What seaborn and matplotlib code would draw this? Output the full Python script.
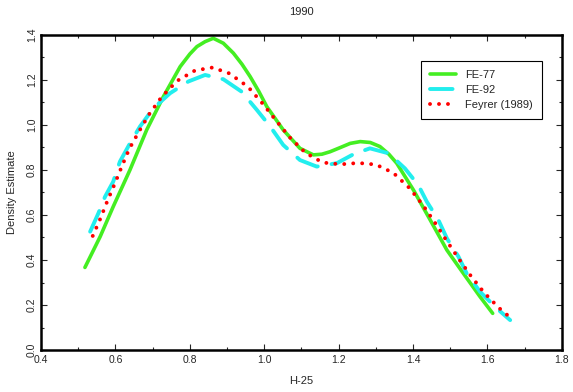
import pandas as pd
import matplotlib.pyplot as plt
import matplotlib.ticker as mticker
import seaborn as sns

# Values
fe77_x = [0.518, 0.559, 0.594, 0.639, 0.684, 0.729, 0.774, 0.800, 0.819, 0.841,
          0.863, 0.890, 0.917, 0.940, 0.962, 0.985, 1.007, 1.051, 1.096, 1.132,
          1.155, 1.177, 1.205, 1.231, 1.258, 1.285, 1.311, 1.335, 1.356, 1.401,
          1.446, 1.491, 1.535, 1.580, 1.614]
fe77_y = [0.367, 0.504, 0.637, 0.800, 0.978, 1.126, 1.259, 1.315, 1.348, 1.370,
          1.385, 1.363, 1.319, 1.270, 1.215, 1.150, 1.081, 0.978, 0.896, 0.867,
          0.870, 0.881, 0.900, 0.918, 0.926, 0.922, 0.904, 0.870, 0.830, 0.711,
          0.578, 0.444, 0.341, 0.237, 0.163]

fe92_x = [0.532, 0.554, 0.572, 0.594, 0.612, 0.639, 0.666, 0.702, 0.747, 0.796,
          0.841, 0.890, 0.939, 0.980, 1.016, 1.051, 1.096, 1.141, 1.195, 1.240,
          1.284, 1.334, 1.378, 1.414, 1.437, 1.468, 1.491, 1.522, 1.544, 1.580,
          1.625, 1.661]
fe92_y = [0.526, 0.607, 0.681, 0.748, 0.837, 0.918, 0.993, 1.074, 1.141, 1.193,
          1.222, 1.203, 1.148, 1.067, 0.993, 0.911, 0.844, 0.815, 0.830, 0.870,
          0.896, 0.874, 0.807, 0.733, 0.659, 0.578, 0.496, 0.415, 0.341, 0.259,
          0.185, 0.133]

feyrer_x = [0.539, 0.559, 0.578, 0.598, 0.617, 0.637, 0.663, 0.690, 0.724, 0.766,
            0.814, 0.861, 0.906, 0.956, 0.995, 1.032, 1.069, 1.111, 1.157, 1.205,
            1.253, 1.300, 1.347, 1.392, 1.428, 1.460, 1.490, 1.521, 1.555, 1.591,
            1.631, 1.653]
feyrer_y = [0.507, 0.582, 0.661, 0.738, 0.815, 0.893, 0.970, 1.046, 1.124, 1.196,
            1.242, 1.255, 1.229, 1.170, 1.096, 1.019, 0.944, 0.876, 0.833, 0.825,
            0.831, 0.824, 0.787, 0.717, 0.640, 0.563, 0.486, 0.410, 0.330, 0.255,
            0.187, 0.156]

sns.set_style('ticks')
plt.rcParams['font.family'] = ['Liberation Sans', 'DejaVu Sans']

fig = plt.figure(figsize=(5.73, 3.92), dpi=100)
ax = fig.add_axes([0.0716, 0.107, 0.909, 0.804])

sns.lineplot(x=fe77_x, y=fe77_y, ax=ax, sort=False, color='#44ee22',
             linewidth=2.6, label='FE-77')
sns.lineplot(x=fe92_x, y=fe92_y, ax=ax, sort=False, color='#22eeee',
             linewidth=2.8, label='FE-92')
sns.lineplot(x=feyrer_x, y=feyrer_y, ax=ax, sort=False, color='#ff0000',
             linewidth=2.8, label='Feyrer (1989)')

for ln in ax.lines:
    ln.set_solid_joinstyle('round')
    ln.set_solid_capstyle('round')
ax.lines[1].set_linestyle((0, (5.8, 3.6)))
ax.lines[1].set_dash_capstyle('round')
ax.lines[2].set_linestyle((0, (0.01, 2.3)))
ax.lines[2].set_dash_capstyle('round')

ax.set_xlim(0.4, 1.8)
ax.set_ylim(0.0, 1.4)
ax.xaxis.set_major_locator(mticker.MultipleLocator(0.2))
ax.xaxis.set_minor_locator(mticker.MultipleLocator(0.1))
ax.yaxis.set_major_locator(mticker.MultipleLocator(0.2))
ax.yaxis.set_minor_locator(mticker.MultipleLocator(0.1))
ax.xaxis.set_major_formatter(mticker.FormatStrFormatter('%.1f'))
ax.yaxis.set_major_formatter(mticker.FormatStrFormatter('%.1f'))
ax.tick_params(which='both', direction='in', top=True, right=True,
               labelsize=7.5, width=0.8)
ax.tick_params(which='major', length=4)
ax.tick_params(which='minor', length=2.5)
ax.tick_params(axis='y', pad=3)
plt.setp(ax.get_yticklabels(), rotation=90, va='center')
for sp in ax.spines.values():
    sp.set_linewidth(1.8)
    sp.set_color('black')

ax.set_title('1990', fontsize=8, pad=14)
ax.set_xlabel('H-25', fontsize=8, labelpad=8)
ax.set_ylabel('Density Estimate', fontsize=8, labelpad=7)

leg = ax.legend(loc='upper right', bbox_to_anchor=(0.972, 0.935), fontsize=8,
                fancybox=False, framealpha=1, edgecolor='black',
                handlelength=2.4, borderpad=0.8, labelspacing=0.45)
leg.get_frame().set_linewidth(0.8)

fig.savefig('out.png', dpi=100)
